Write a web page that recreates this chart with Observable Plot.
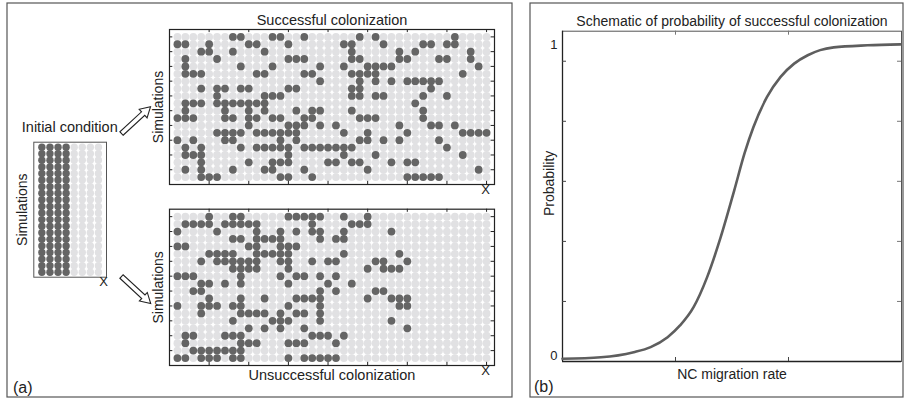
<!DOCTYPE html>
<html><head><meta charset="utf-8">
<script src="https://cdn.jsdelivr.net/npm/d3@7"></script>
<script src="https://cdn.jsdelivr.net/npm/@observablehq/plot@0.6"></script>
<style>
body{margin:0;background:#fff;}
#fig{position:relative;width:904px;height:401px;overflow:hidden;font-family:"Liberation Sans",Arial,sans-serif;}
#fig svg{position:absolute;left:0;top:0;}
</style></head><body><div id="fig"></div>
<script>
// ---------- data ----------
const gridCols = 40, gridRows = 20;
// dark (occupied) column indices per simulation row, top row first
const successDark = [
  [7,8,12,13,16,23,25,35],
  [0,1,4,9,10,14,21,22,26,31,32,34,35],
  [3,4,7,11,22,28,30,37],
  [1,5,14,15,16,22,23,28,29,33,34,37],
  [1,8,12,18,21,24,25,26,27,38],
  [1,2,3,10,11,16,17,22,23,24,25,36],
  [18,23,25,27,29,30,31,32,33],
  [3,5,6,8,9,14,15,22,23,32],
  [5,11,12,13,22,23,25,26,31,34],
  [1,2,3,5,6,7,8,9,10,11,30],
  [1,6,9,11,15,17,18,22,31],
  [0,1,2,6,7,9,10,12,13,16,17,23,24,25,31],
  [9,14,15,16,18,20,28,32,33,35],
  [5,6,7,8,10,11,12,13,14,15,21,24,29,36,37,38,39],
  [0,2,6,7,13,15,23,24,26,28,33],
  [1,3,8,10,11,12,13,14,16,17,18,19,20,21,22,34],
  [1,2,3,14,21,25,36],
  [3,9,12,13,14,19,20,22,23,27,29,30],
  [1,3,7,11,12,16,24,38],
  [3,4,5,13,14,17,29,30,31,32,33]
];
const failDark = [
  [4,7,8,14,15,16,17,18,21,24],
  [1,2,3,4,6,7,8,9,10,17,22,23,24],
  [0,5,10,13,15,17,18,21,27],
  [7,8,10,11,12,13,18,20,21],
  [0,1,9,10,13,14,15],
  [4,5,6,7,10,11,12,13,14,21,28],
  [3,5,6,7,8,9,10,13,14,17,19,20,25,26,29],
  [7,8,9,10,14,24,26,27,28],
  [0,1,2,8,13,15,16,18,20],
  [3,4,6,8,14,19,22],
  [2,3,18,20,25,26],
  [4,8,11,15,16,17,18,24,27,28,29],
  [0,3,4,5,7,8,14,18,28,29],
  [3,8,9,10,11,13,15,16,18],
  [7,12,13,14,18,27],
  [9,11,13,16,29],
  [1,2,6,7,8,17,18,19,21],
  [1,8,9,10,14,15,16,20],
  [2,3,4,5,6,7,8],
  [0,1,3,4,5,7,8,14,16,17,18,19,20]
];
const initCols = 8, initRows = 20;
const initDark = [0,1,2,3];
const xTickCols = [5,10,15,20,25,30,35,40];
const yTickRows = [2,4,6,8,10,12,14,16,18,20];

const migrationRate = [0,0.34,0.63,0.78,0.93,1.04,1.16,1.28,1.40,1.52,1.61,1.69,1.81,1.93,2.05,2.17,2.28,2.40,2.70,2.99];
const probability   = [0.009,0.014,0.031,0.048,0.081,0.12,0.181,0.281,0.414,0.57,0.692,0.781,0.881,0.948,0.992,1.02,1.037,1.046,1.053,1.056];
const rateTicks = [1,2];
const probTicks = [0.2,0.4,0.6,0.8,1.0];
const probLabelPos = [0.02,1.053];
const probLabelText = ["0","1"];

// ---------- style ----------
const W = 904, H = 401;
const DARK = "#656565", LIGHT = "#e1e1e3", AX = "#222";
const FONT = '"Liberation Sans", Arial, sans-serif';
const fig = document.getElementById("fig");
const baseStyle = {fontFamily: FONT, fontSize: "14px", background: "transparent", overflow: "visible"};

function cellsFrom(rows, nCols) {
  const out = [];
  rows.forEach((darkCols, r) => {
    for (let c = 0; c < nCols; c++) out.push({x: c + 1, y: rows.length - r, dark: darkCols.includes(c)});
  });
  return out;
}

function gridPlot(rows, f, title, titleDy, xDy) {
  const cells = cellsFrom(rows, gridCols);
  const tx = 0.42, ty = 0.42;
  return Plot.plot({
    width: W, height: H,
    marginLeft: f.x0, marginRight: W - f.x1, marginTop: f.y0, marginBottom: H - f.y1,
    x: {domain: [0, gridCols + 1], axis: null},
    y: {domain: [0, gridRows + 1], axis: null},
    style: baseStyle,
    marks: [
      Plot.dot(cells.filter(d => !d.dark), {x: "x", y: "y", r: 3.9, fill: LIGHT, stroke: null}),
      Plot.dot(cells.filter(d => d.dark), {x: "x", y: "y", r: 3.9, fill: DARK, stroke: null}),
      Plot.frame({stroke: AX, strokeWidth: 1.2}),
      Plot.ruleX(xTickCols, {x: d => d, y1: 0, y2: ty, stroke: AX}),
      Plot.ruleX(xTickCols, {x: d => d, y1: gridRows + 1, y2: gridRows + 1 - ty, stroke: AX}),
      Plot.ruleY(yTickRows, {y: d => d, x1: 0, x2: tx, stroke: AX}),
      Plot.ruleY(yTickRows, {y: d => d, x1: gridCols + 1, x2: gridCols + 1 - tx, stroke: AX}),
      Plot.text([title], {text: d => d, frameAnchor: titleDy < 0 ? "top" : "bottom", dy: titleDy, textAnchor: "middle", fill: "#222", fontSize: 14.5}),
      Plot.text(["Simulations"], {text: d => d, frameAnchor: "left", rotate: -90, dx: -11, textAnchor: "middle", fill: "#222", fontSize: 14}),
      Plot.text(["X"], {text: d => d, frameAnchor: "bottom-right", dx: -9, dy: xDy, textAnchor: "middle", fill: "#222", fontSize: 13})
    ]
  });
}

// initial condition grid
const initRowsData = Array.from({length: initRows}, () => initDark);
const initCells = cellsFrom(initRowsData, initCols);
const initF = {x0: 33.3, x1: 106, y0: 141.7, y1: 276.7};
const initPlot = Plot.plot({
  width: W, height: H,
  marginLeft: initF.x0, marginRight: W - initF.x1, marginTop: initF.y0, marginBottom: H - initF.y1,
  x: {domain: [0, initCols + 1], axis: null},
  y: {domain: [0.25, initRows + 0.75], axis: null},
  style: baseStyle,
  marks: [
    Plot.dot(initCells.filter(d => !d.dark), {x: "x", y: "y", r: 3.7, fill: LIGHT, stroke: null}),
    Plot.dot(initCells.filter(d => d.dark), {x: "x", y: "y", r: 3.7, fill: DARK, stroke: null}),
    Plot.frame({stroke: "#555", strokeWidth: 1}),
    Plot.text(["Simulations"], {text: d => d, frameAnchor: "left", rotate: -90, dx: -11, textAnchor: "middle", fill: "#222", fontSize: 14}),
    Plot.text(["X"], {text: d => d, frameAnchor: "bottom-right", dx: -3, dy: 9, textAnchor: "middle", fill: "#222", fontSize: 13}),
    Plot.text(["Initial condition"], {text: d => d, frameAnchor: "top-left", dx: -12, dy: -20, textAnchor: "start", fill: "#222", fontSize: 14.5})
  ]
});

const topPlot = gridPlot(successDark, {x0: 169, x1: 494, y0: 29, y1: 184}, "Successful colonization", -15, 9);
const botPlot = gridPlot(failDark, {x0: 169, x1: 494, y0: 208.7, y1: 365}, "Unsuccessful colonization", 14, 9);

// panel (b)
const curve = migrationRate.map((x, i) => ({x, y: probability[i]}));
const bF = {x0: 562, x1: 901, y0: 30.7, y1: 361};
const yPx = (bF.y1 - bF.y0) / 1.1, xPx = (bF.x1 - bF.x0) / 3;
const probPlot = Plot.plot({
  width: W, height: H,
  marginLeft: bF.x0, marginRight: W - bF.x1, marginTop: bF.y0, marginBottom: H - bF.y1,
  x: {domain: [0, 3], axis: null},
  y: {domain: [0, 1.1], axis: null},
  style: baseStyle,
  marks: [
    Plot.frame({stroke: "#555", strokeWidth: 1}),
    Plot.ruleY([0], {stroke: AX, strokeWidth: 1.3}),
    Plot.ruleX([0], {stroke: AX, strokeWidth: 1.3}),
    Plot.ruleX(rateTicks, {x: d => d, y1: 0, y2: 4 / yPx, stroke: "#444"}),
    Plot.ruleX(rateTicks, {x: d => d, y1: 1.1, y2: 1.1 - 4 / yPx, stroke: "#777"}),
    Plot.ruleY(probTicks, {y: d => d, x1: 0, x2: 4 / xPx, stroke: "#444"}),
    Plot.ruleY(probTicks, {y: d => d, x1: 3, x2: 3 - 4 / xPx, stroke: "#777"}),
    Plot.line(curve, {x: "x", y: "y", stroke: "#5e5e5e", strokeWidth: 2.6, curve: "monotone-x"}),
    Plot.text(probLabelPos, {x: 0, y: d => d, text: (d, i) => probLabelText[i], dx: -5, textAnchor: "end", fill: "#222", fontSize: 13}),
    Plot.text(["Schematic of probability of successful colonization"], {text: d => d, frameAnchor: "top", dy: -15, textAnchor: "middle", fill: "#222", fontSize: 14}),
    Plot.text(["Probability"], {text: d => d, frameAnchor: "left", rotate: -90, dx: -13, dy: -13, textAnchor: "middle", fill: "#222", fontSize: 14}),
    Plot.text(["NC migration rate"], {text: d => d, frameAnchor: "bottom", dy: 17, textAnchor: "middle", fill: "#222", fontSize: 14})
  ]
});

// decorations: panel boxes, arrows, panel letters
const ns = "http://www.w3.org/2000/svg";
const deco = document.createElementNS(ns, "svg");
deco.setAttribute("width", W); deco.setAttribute("height", H);
function el(tag, attrs, parent) {
  const e = document.createElementNS(ns, tag);
  for (const k in attrs) e.setAttribute(k, attrs[k]);
  (parent || deco).appendChild(e);
  return e;
}
el("rect", {x: 7, y: 3, width: 505, height: 394, fill: "none", stroke: "#555", "stroke-width": 1.2});
el("rect", {x: 530, y: 3, width: 373, height: 394, fill: "none", stroke: "#555", "stroke-width": 1.2});
function hollowArrow(x0, y0, x1, y1) {
  const dx = x1 - x0, dy = y1 - y0, L = Math.hypot(dx, dy);
  const ux = dx / L, uy = dy / L, nx = -uy, ny = ux;
  const sw = 2.4, hw = 5.8, hl = 10;
  const bx = x1 - ux * hl, by = y1 - uy * hl;
  const pts = [
    [x0 + nx * sw, y0 + ny * sw], [bx + nx * sw, by + ny * sw], [bx + nx * hw, by + ny * hw],
    [x1, y1], [bx - nx * hw, by - ny * hw], [bx - nx * sw, by - ny * sw], [x0 - nx * sw, y0 - ny * sw]
  ];
  el("polygon", {points: pts.map(p => p.join(",")).join(" "), fill: "#fff", stroke: "#222", "stroke-width": 1.1, "stroke-linejoin": "miter"});
}
hollowArrow(121.5, 133.5, 150.5, 106.8);
hollowArrow(121.5, 276.5, 150.7, 303.5);
const tA = el("text", {x: 13, y: 393, "font-size": 16, fill: "#222", "font-family": FONT});
tA.textContent = "(a)";
const tB = el("text", {x: 534, y: 392, "font-size": 16, fill: "#222", "font-family": FONT});
tB.textContent = "(b)";

fig.appendChild(deco);
fig.appendChild(initPlot);
fig.appendChild(topPlot);
fig.appendChild(botPlot);
fig.appendChild(probPlot);
</script>
</body></html>
